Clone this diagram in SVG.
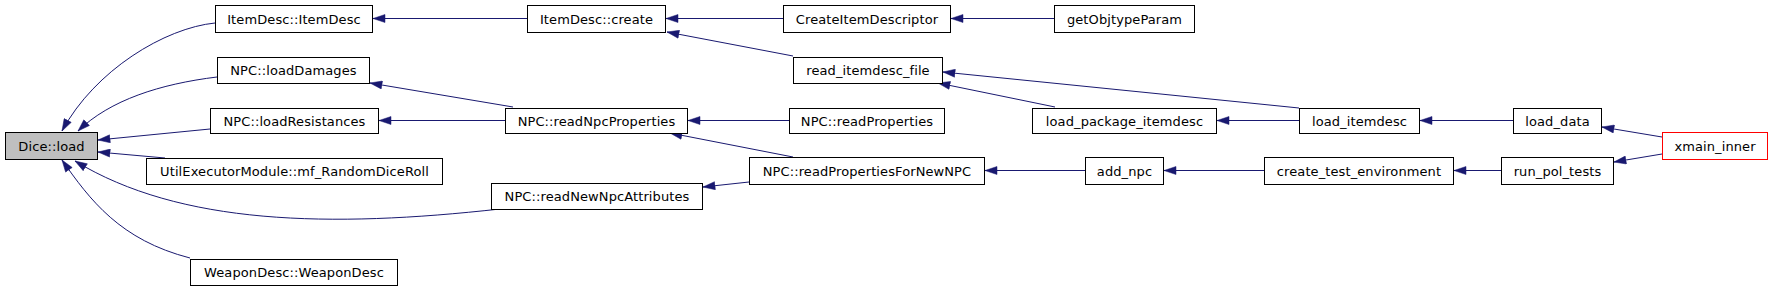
<svg xmlns="http://www.w3.org/2000/svg" width="1773" height="291" viewBox="0 0 1773 291">
<style>
.n rect{fill:#fff;stroke:#000;stroke-width:1}
.n text{font-family:"DejaVu Sans",sans-serif;font-size:13px;fill:#000;text-anchor:middle;letter-spacing:0.1px}
#edges path{fill:none;stroke:#191970;stroke-width:1;marker-end:url(#ah)}
</style>
<defs>
<marker id="ah" markerUnits="userSpaceOnUse" markerWidth="13" markerHeight="9" refX="12.5" refY="4.5" orient="auto">
<path d="M0.5,0.5 L12.5,4.5 L0.5,8.5 z" fill="#191970" stroke="#191970" stroke-width="0.5"/>
</marker>
</defs>
<rect width="1773" height="291" fill="#fff"/>
<g id="edges">
<path d="M215,23 C165,28 95,70 62,131"/>
<path d="M217,77 C160,84 110,100 78,131"/>
<path d="M210,129 L98,140"/>
<path d="M165,158 L98,152"/>
<path d="M500,209 C330,228 180,225 75,161"/>
<path d="M190,258 C120,240 90,200 62,160"/>
<path d="M527,18.5 L373,18.5"/>
<path d="M513,107 L370,83"/>
<path d="M505,120.5 L379,120.5"/>
<path d="M783,18.5 L666,18.5"/>
<path d="M793,56 L667,32"/>
<path d="M789,120.5 L688,120.5"/>
<path d="M793,157 L670,133"/>
<path d="M749,182 L703,187"/>
<path d="M1054,18.5 L951,18.5"/>
<path d="M1299,108 L943,72"/>
<path d="M1055,107 L938,83"/>
<path d="M1085,170.5 L985,170.5"/>
<path d="M1299,120.5 L1217,120.5"/>
<path d="M1264,170.5 L1164,170.5"/>
<path d="M1513,120.5 L1420,120.5"/>
<path d="M1501,170.5 L1454,170.5"/>
<path d="M1662,137 L1602,127"/>
<path d="M1662,154 L1614,162"/>
</g>
<g id="dice_load" class="n"><rect x="5.5" y="132.5" width="92" height="27" style="fill:#bfbfbf"/><text x="51.5" y="150.5">Dice::load</text></g>
<g id="itemdesc_itemdesc" class="n"><rect x="215.5" y="5.5" width="157" height="27"/><text x="294" y="23.5">ItemDesc::ItemDesc</text></g>
<g id="npc_loaddamages" class="n"><rect x="217.5" y="57.5" width="152" height="26"/><text x="293.5" y="75">NPC::loadDamages</text></g>
<g id="npc_loadresistances" class="n"><rect x="210.5" y="108.5" width="168" height="25"/><text x="294.5" y="125.5">NPC::loadResistances</text></g>
<g id="util_randomdiceroll" class="n"><rect x="146.5" y="158.5" width="296" height="26"/><text x="294.5" y="176">UtilExecutorModule::mf_RandomDiceRoll</text></g>
<g id="npc_readnewnpcattributes" class="n"><rect x="491.5" y="183.5" width="211" height="26"/><text x="597" y="201">NPC::readNewNpcAttributes</text></g>
<g id="weapondesc" class="n"><rect x="190.5" y="259.5" width="207" height="26"/><text x="294" y="277">WeaponDesc::WeaponDesc</text></g>
<g id="itemdesc_create" class="n"><rect x="527.5" y="5.5" width="138" height="27"/><text x="596.5" y="23.5">ItemDesc::create</text></g>
<g id="npc_readnpcproperties" class="n"><rect x="505.5" y="108.5" width="182" height="25"/><text x="596.5" y="125.5">NPC::readNpcProperties</text></g>
<g id="createitemdescriptor" class="n"><rect x="783.5" y="5.5" width="167" height="27"/><text x="867" y="23.5">CreateItemDescriptor</text></g>
<g id="read_itemdesc_file" class="n"><rect x="793.5" y="57.5" width="149" height="26"/><text x="868" y="75">read_itemdesc_file</text></g>
<g id="npc_readproperties" class="n"><rect x="789.5" y="108.5" width="155" height="25"/><text x="867" y="125.5">NPC::readProperties</text></g>
<g id="npc_readpropertiesfornewnpc" class="n"><rect x="749.5" y="157.5" width="235" height="27"/><text x="867" y="175.5">NPC::readPropertiesForNewNPC</text></g>
<g id="getobjtypeparam" class="n"><rect x="1054.5" y="5.5" width="140" height="27"/><text x="1124.5" y="23.5">getObjtypeParam</text></g>
<g id="load_package_itemdesc" class="n"><rect x="1032.5" y="108.5" width="184" height="25"/><text x="1124.5" y="125.5">load_package_itemdesc</text></g>
<g id="add_npc" class="n"><rect x="1085.5" y="157.5" width="78" height="27"/><text x="1124.5" y="175.5">add_npc</text></g>
<g id="load_itemdesc" class="n"><rect x="1299.5" y="108.5" width="120" height="25"/><text x="1359.5" y="125.5">load_itemdesc</text></g>
<g id="create_test_environment" class="n"><rect x="1264.5" y="157.5" width="189" height="27"/><text x="1359" y="175.5">create_test_environment</text></g>
<g id="load_data" class="n"><rect x="1513.5" y="108.5" width="88" height="25"/><text x="1557.5" y="125.5">load_data</text></g>
<g id="run_pol_tests" class="n"><rect x="1501.5" y="157.5" width="112" height="27"/><text x="1557.5" y="175.5">run_pol_tests</text></g>
<g id="xmain_inner" class="n"><rect x="1662.5" y="132.5" width="105" height="27" style="stroke:#ff0000"/><text x="1715" y="150.5">xmain_inner</text></g>
</svg>
